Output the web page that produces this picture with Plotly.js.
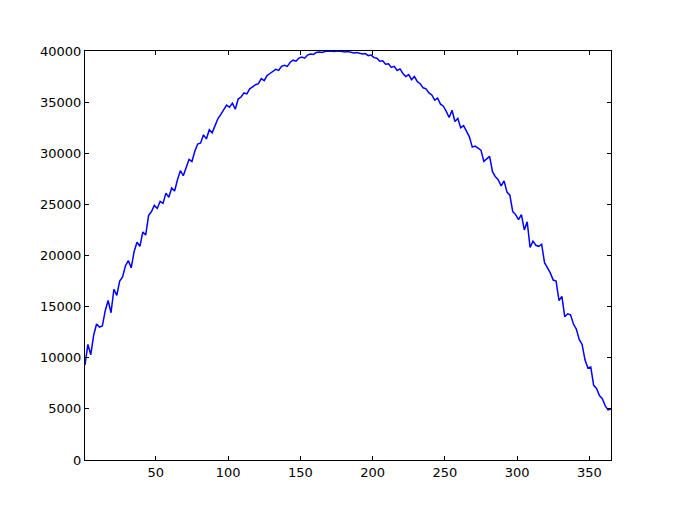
<!DOCTYPE html>
<html>
<head>
<meta charset="utf-8">
<script src="https://cdn.plot.ly/plotly-3.0.1.min.js"></script>
<style>html,body{margin:0;padding:0;background:#fff;}#chart{width:679px;height:512px;}</style>
</head>
<body>
<div id="chart"></div>
<script>
// Day of year (odd days) and values
const dayStart = 1, dayStep = 2;
const values = [
  9300, 11300, 10300, 12200, 13300, 13000, 13100, 14600, 15600, 14400,
  16700, 16100, 17500, 17900, 19000, 19500, 18800, 20400, 21300, 20900, 22300,
  22000, 23900, 24300, 24900, 24600, 25300, 25100, 26100, 25700, 26600,
  26300, 27400, 28300, 27800, 28700, 29400, 29200, 30200, 30900,
  31000, 31800, 31400, 32300, 32000, 32700, 33400, 33800, 34300, 34700,
  34500, 34900, 34300, 35300, 35500, 35900, 35800, 36300, 36500, 36700,
  36800, 37300, 37100, 37600, 37800, 38000, 38200, 38100, 38500, 38600,
  38500, 38900, 39100, 39000, 39300, 39400, 39300, 39600, 39700, 39650,
  39850, 39900, 39850, 39950, 40000, 40000, 39950, 40000, 40000, 39950,
  39900, 39950, 39850, 39800, 39850, 39750,
  39700, 39750, 39550, 39600, 39350, 39300, 39000, 39050, 38700, 38750,
  38400, 38500, 38100, 38250, 37800, 37500, 37700, 37200, 37500, 37000,
  36800, 36400, 36300, 35900, 35700, 35200, 35400, 34800, 34600, 34100,
  33500, 34200, 33100, 33400, 32500, 32700, 32200, 31600,
  30600, 30700, 30500, 30300, 29200, 29500, 29700, 28200, 27700, 27400,
  26800, 27300, 26200, 25900, 24300, 24000, 23500, 24000, 22500, 23300, 20800,
  21400, 21000, 20900, 21100, 19300, 18800, 18300, 17600, 17500, 15600,
  16000, 14000, 14300, 14200,
  13300, 12800, 11800, 11300, 9800, 9000, 9100, 7300, 7000, 6300,
  6000, 5300, 4900, 5000
];
const days = values.map((v, i) => dayStart + i * dayStep);
const xTicks = [50, 100, 150, 200, 250, 300, 350];
const yTicks = [0, 5000, 10000, 15000, 20000, 25000, 30000, 35000, 40000];

const axisCommon = {
  showgrid: false, zeroline: false, showline: true, linecolor: '#000', linewidth: 1,
  mirror: 'ticks', ticks: 'inside', ticklen: 4, tickwidth: 1, tickcolor: '#000',
  tickfont: {family: 'DejaVu Sans', size: 13, color: '#000'}
};

Plotly.newPlot('chart', [{
  x: days, y: values, type: 'scatter', mode: 'lines',
  line: {color: '#0000ff', width: 1.5}, hoverinfo: 'none'
}], {
  width: 679, height: 512,
  margin: {l: 85, r: 68, t: 51, b: 52},
  paper_bgcolor: '#fff', plot_bgcolor: '#fff',
  showlegend: false,
  xaxis: Object.assign({}, axisCommon, {range: [1, 365], tickvals: xTicks, ticktext: xTicks.map(String)}),
  yaxis: Object.assign({}, axisCommon, {range: [0, 40000], tickvals: yTicks, ticktext: yTicks.map(String)})
}, {staticPlot: true, displayModeBar: false});
</script>
</body>
</html>
